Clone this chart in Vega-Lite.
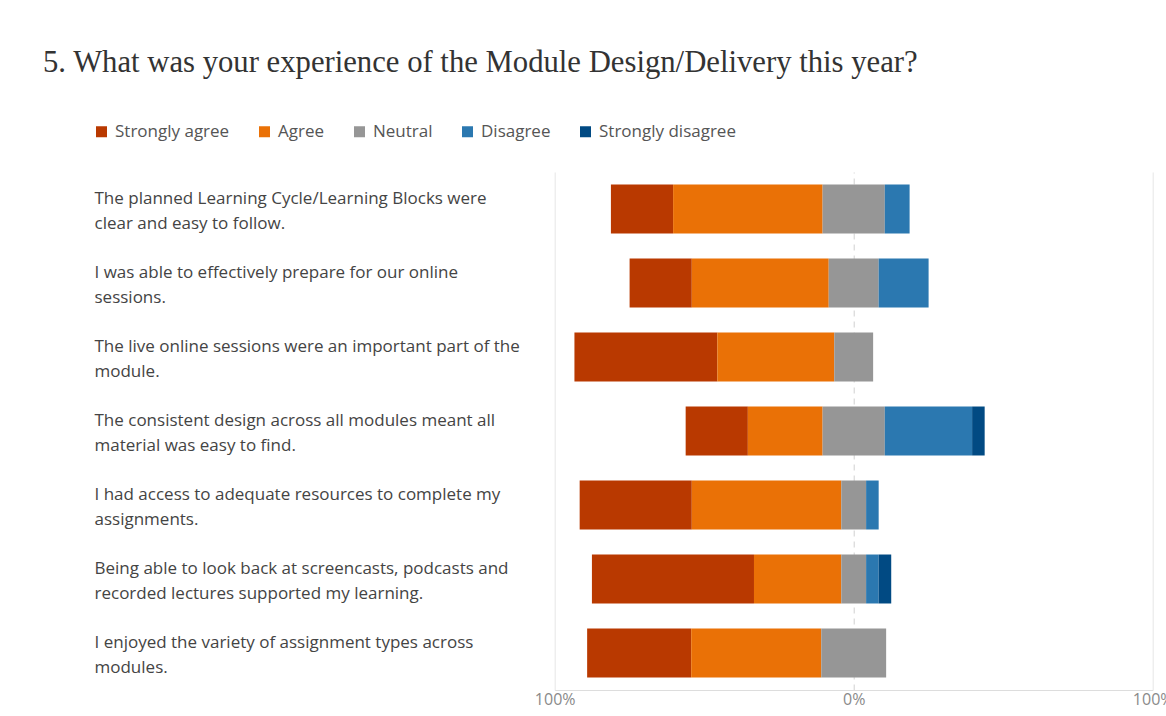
{
  "$schema": "https://vega.github.io/schema/vega-lite/v6.json",
  "autosize": "none",
  "width": 598,
  "height": 518,
  "padding": {"left": 554.7, "top": 172, "right": 13.3, "bottom": 26},
  "background": "white",
  "title": {
    "text": "5. What was your experience of the Module Design/Delivery this year?",
    "anchor": "start",
    "frame": "group",
    "dx": -511.7,
    "dy": -10,
    "font": "Liberation Serif",
    "fontSize": 30.7,
    "fontWeight": "normal",
    "color": "#333333",
    "baseline": "alphabetic",
    "offset": 10
  },
  "data": {
    "values": [
      {"question": "The planned Learning Cycle/Learning Blocks were\nclear and easy to follow.", "response": "Strongly agree", "pct": 20.8},
      {"question": "The planned Learning Cycle/Learning Blocks were\nclear and easy to follow.", "response": "Agree", "pct": 50.0},
      {"question": "The planned Learning Cycle/Learning Blocks were\nclear and easy to follow.", "response": "Neutral", "pct": 20.8},
      {"question": "The planned Learning Cycle/Learning Blocks were\nclear and easy to follow.", "response": "Disagree", "pct": 8.3},
      {"question": "I was able to effectively prepare for our online\nsessions.", "response": "Strongly agree", "pct": 20.8},
      {"question": "I was able to effectively prepare for our online\nsessions.", "response": "Agree", "pct": 45.8},
      {"question": "I was able to effectively prepare for our online\nsessions.", "response": "Neutral", "pct": 16.7},
      {"question": "I was able to effectively prepare for our online\nsessions.", "response": "Disagree", "pct": 16.7},
      {"question": "The live online sessions were an important part of the\nmodule.", "response": "Strongly agree", "pct": 47.8},
      {"question": "The live online sessions were an important part of the\nmodule.", "response": "Agree", "pct": 39.1},
      {"question": "The live online sessions were an important part of the\nmodule.", "response": "Neutral", "pct": 13.0},
      {"question": "The consistent design across all modules meant all\nmaterial was easy to find.", "response": "Strongly agree", "pct": 20.8},
      {"question": "The consistent design across all modules meant all\nmaterial was easy to find.", "response": "Agree", "pct": 25.0},
      {"question": "The consistent design across all modules meant all\nmaterial was easy to find.", "response": "Neutral", "pct": 20.8},
      {"question": "The consistent design across all modules meant all\nmaterial was easy to find.", "response": "Disagree", "pct": 29.2},
      {"question": "The consistent design across all modules meant all\nmaterial was easy to find.", "response": "Strongly disagree", "pct": 4.2},
      {"question": "I had access to adequate resources to complete my\nassignments.", "response": "Strongly agree", "pct": 37.5},
      {"question": "I had access to adequate resources to complete my\nassignments.", "response": "Agree", "pct": 50.0},
      {"question": "I had access to adequate resources to complete my\nassignments.", "response": "Neutral", "pct": 8.3},
      {"question": "I had access to adequate resources to complete my\nassignments.", "response": "Disagree", "pct": 4.2},
      {"question": "Being able to look back at screencasts, podcasts and\nrecorded lectures supported my learning.", "response": "Strongly agree", "pct": 54.2},
      {"question": "Being able to look back at screencasts, podcasts and\nrecorded lectures supported my learning.", "response": "Agree", "pct": 29.2},
      {"question": "Being able to look back at screencasts, podcasts and\nrecorded lectures supported my learning.", "response": "Neutral", "pct": 8.3},
      {"question": "Being able to look back at screencasts, podcasts and\nrecorded lectures supported my learning.", "response": "Disagree", "pct": 4.2},
      {"question": "Being able to look back at screencasts, podcasts and\nrecorded lectures supported my learning.", "response": "Strongly disagree", "pct": 4.2},
      {"question": "I enjoyed the variety of assignment types across\nmodules.", "response": "Strongly agree", "pct": 34.8},
      {"question": "I enjoyed the variety of assignment types across\nmodules.", "response": "Agree", "pct": 43.5},
      {"question": "I enjoyed the variety of assignment types across\nmodules.", "response": "Neutral", "pct": 21.7}
    ]
  },
  "transform": [
    {"calculate": "indexof(['Strongly agree','Agree','Neutral','Disagree','Strongly disagree'], datum.response)", "as": "order"},
    {"calculate": "datum.order < 2 ? datum.pct : (datum.order == 2 ? datum.pct / 2 : 0)", "as": "leftpart"},
    {"stack": "pct", "groupby": ["question"], "sort": [{"field": "order", "order": "ascending"}], "as": ["v1", "v2"]},
    {"joinaggregate": [{"op": "sum", "field": "leftpart", "as": "offset"}], "groupby": ["question"]},
    {"calculate": "datum.v1 - datum.offset", "as": "start"},
    {"calculate": "datum.v2 - datum.offset", "as": "end"}
  ],
  "mark": {"type": "bar"},
  "encoding": {
    "y": {
      "field": "question",
      "type": "nominal",
      "sort": null,
      "scale": {"paddingInner": 0.338, "paddingOuter": 0.169},
      "axis": {
        "title": null,
        "domain": false,
        "ticks": false,
        "tickSize": 0,
        "labelAlign": "left",
        "labelBaseline": "middle",
        "labelPadding": 460.7,
        "labelOffset": -10.5,
        "labelLimit": 600,
        "labelFont": "Open Sans",
        "labelFontSize": 17,
        "labelColor": "#444444",
        "labelLineHeight": 25,
        "labelExpr": "split(datum.label, '\\n')",
        "grid": false
      }
    },
    "x": {
      "field": "start",
      "type": "quantitative",
      "scale": {"domain": [-100, 100], "nice": false},
      "axis": {
        "title": null,
        "values": [-100, 0, 100],
        "labelExpr": "abs(datum.value) + '%'",
        "ticks": false,
        "labelPadding": 1,
        "labelFont": "Open Sans",
        "labelFontSize": 16,
        "labelColor": "#8a8a8a",
        "labelFlush": false,
        "domainColor": "#dddddd",
        "grid": true,
        "gridColor": {"condition": {"test": "datum.value === 0", "value": "#d0d0d0"}, "value": "#e6e6e6"},
        "gridDash": {"condition": {"test": "datum.value === 0", "value": [6, 5]}, "value": []}
      }
    },
    "x2": {"field": "end"},
    "color": {
      "field": "response",
      "type": "nominal",
      "scale": {
        "domain": ["Strongly agree", "Agree", "Neutral", "Disagree", "Strongly disagree"],
        "range": ["#B93900", "#EA7106", "#969696", "#2B78B0", "#014A83"]
      },
      "legend": {
        "title": null,
        "orient": "none",
        "direction": "horizontal",
        "legendX": -461.7,
        "legendY": -49,
        "padding": 0,
        "symbolType": "square",
        "symbolSize": 121,
        "symbolStrokeWidth": 0,
        "symbolOpacity": 1,
        "labelFont": "Open Sans",
        "labelFontSize": 17,
        "labelColor": "#555555",
        "labelOffset": 5,
        "columnPadding": 26
      }
    }
  },
  "config": {
    "view": {"stroke": null},
    "bar": {"opacity": 1}
  }
}
